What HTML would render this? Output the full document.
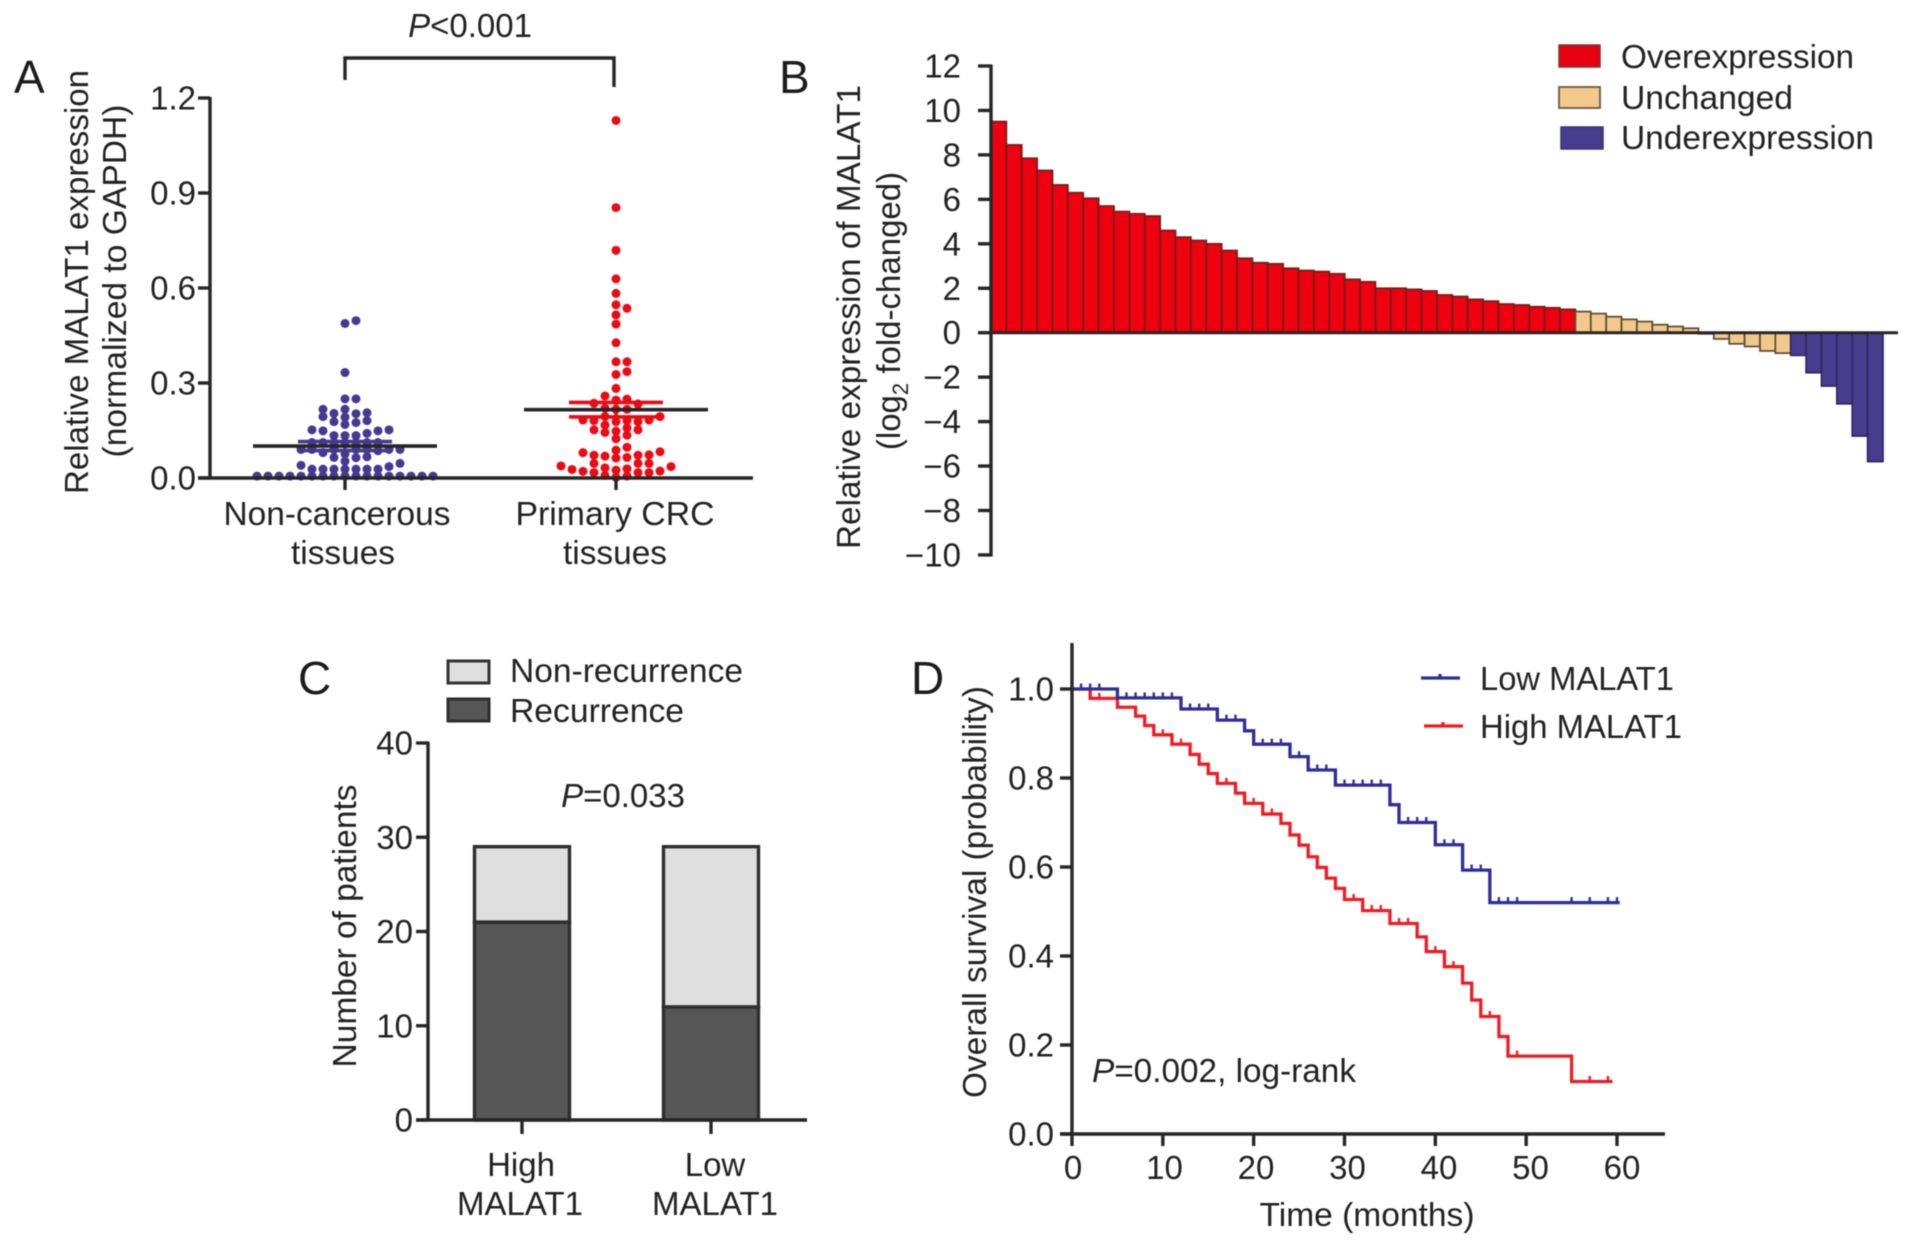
<!DOCTYPE html>
<html>
<head>
<meta charset="utf-8">
<title>MALAT1 expression figure</title>
<style>
html,body{margin:0;padding:0;background:#fff;}
svg{display:block;filter:blur(0.55px);}
text{font-family:"Liberation Sans",Arial,sans-serif;fill:#222;font-size:33px;}
.panel{font-size:46px;fill:#1c1c1c;}
</style>
</head>
<body>
<svg id="fig" xmlns="http://www.w3.org/2000/svg" width="1913" height="1245" viewBox="0 0 1913 1245">
  <rect x="0" y="0" width="1913" height="1245" fill="#fff"/>

  <!-- Panel A static -->
  <g id="panelA">
    <text class="panel" x="14" y="93">A</text>
    <text x="470" y="37" text-anchor="middle"><tspan font-style="italic">P</tspan>&lt;0.001</text>
    <path d="M345 80V58H614V87" fill="none" stroke="#262626" stroke-width="3.4"/>
    <text transform="translate(88 282) rotate(-90)" text-anchor="middle" textLength="424" lengthAdjust="spacingAndGlyphs">Relative MALAT1 expression</text>
    <text transform="translate(126 281) rotate(-90)" text-anchor="middle" textLength="353" lengthAdjust="spacingAndGlyphs">(normalized to GAPDH)</text>
    <text x="337" y="525" text-anchor="middle" textLength="227" lengthAdjust="spacingAndGlyphs">Non-cancerous</text>
    <text x="343" y="564" text-anchor="middle" textLength="104" lengthAdjust="spacingAndGlyphs">tissues</text>
    <text x="615" y="525" text-anchor="middle" textLength="199" lengthAdjust="spacingAndGlyphs">Primary CRC</text>
    <text x="615" y="564" text-anchor="middle" textLength="104" lengthAdjust="spacingAndGlyphs">tissues</text>
  </g>

  <!-- Panel B static -->
  <g id="panelB">
    <text class="panel" x="779" y="93">B</text>
    <text transform="translate(860 317) rotate(-90)" text-anchor="middle" textLength="464" lengthAdjust="spacingAndGlyphs">Relative expression of MALAT1</text>
    <text transform="translate(900 311) rotate(-90)" text-anchor="middle">(log<tspan font-size="22" dy="8">2</tspan><tspan dy="-8"> fold-changed)</tspan></text>
    <rect x="1559" y="45" width="41" height="22" fill="#e60012" stroke="#7a3a30" stroke-width="1.5"/>
    <rect x="1559" y="87" width="41" height="21" fill="#f2c98a" stroke="#6a5a40" stroke-width="1.8"/>
    <rect x="1561" y="127" width="42" height="22" fill="#483c8e" stroke="#3b3270" stroke-width="1.5"/>
    <text x="1621" y="68" textLength="233" lengthAdjust="spacingAndGlyphs">Overexpression</text>
    <text x="1621" y="109" textLength="172" lengthAdjust="spacingAndGlyphs">Unchanged</text>
    <text x="1621" y="149" textLength="253" lengthAdjust="spacingAndGlyphs">Underexpression</text>
  </g>

  <!-- Panel C static -->
  <g id="panelC">
    <text class="panel" x="298" y="694">C</text>
    <rect x="448" y="661" width="41" height="22" fill="#dedede" stroke="#333" stroke-width="3"/>
    <rect x="448" y="699" width="41" height="22" fill="#565656" stroke="#2e2e2e" stroke-width="3"/>
    <text x="510" y="682" textLength="233" lengthAdjust="spacingAndGlyphs">Non-recurrence</text>
    <text x="510" y="722" textLength="174" lengthAdjust="spacingAndGlyphs">Recurrence</text>
    <text x="623" y="807" text-anchor="middle"><tspan font-style="italic">P</tspan>=0.033</text>
    <text transform="translate(356 926) rotate(-90)" text-anchor="middle" textLength="283" lengthAdjust="spacingAndGlyphs">Number of patients</text>
    <text x="521" y="1176" text-anchor="middle">High</text>
    <text x="520" y="1215" text-anchor="middle">MALAT1</text>
    <text x="715" y="1176" text-anchor="middle">Low</text>
    <text x="715" y="1215" text-anchor="middle">MALAT1</text>
  </g>

  <!-- Panel D static -->
  <g id="panelD">
    <text class="panel" x="911" y="694">D</text>
    <text transform="translate(986 892) rotate(-90)" text-anchor="middle" textLength="412" lengthAdjust="spacingAndGlyphs">Overall survival (probability)</text>
    <text x="1367" y="1226" text-anchor="middle" textLength="215" lengthAdjust="spacingAndGlyphs">Time (months)</text>
    <text x="1092" y="1082" textLength="264" lengthAdjust="spacingAndGlyphs"><tspan font-style="italic">P</tspan>=0.002, log-rank</text>
    <path d="M1421 678H1460M1440 678V674" fill="none" stroke="#2e2e9a" stroke-width="3.3"/>
    <path d="M1424 726H1463M1443 726V722" fill="none" stroke="#f01c24" stroke-width="3.3"/>
    <text x="1480" y="690" textLength="194" lengthAdjust="spacingAndGlyphs">Low MALAT1</text>
    <text x="1480" y="738" textLength="202" lengthAdjust="spacingAndGlyphs">High MALAT1</text>
  </g>
</svg>

<script>
// ---- Panel A data ----
const aTicks = [0, 0.3, 0.6, 0.9, 1.2];
const aTickLabels = ['0.0', '0.3', '0.6', '0.9', '1.2'];
const aNonCancerous = [
  0.006,0.006,0.006,0.006,0.006,0.006,0.006,0.006,0.006,0.006,0.006,0.006,0.006,0.006,0.006,0.006,0.006,
  0.028,0.028,0.028,0.028,0.028,0.028,0.028,
  0.036,0.04,0.046,0.053,
  0.064,0.065,0.067,0.076,0.08,0.086,
  0.09,0.09,0.09,0.09,0.09,0.09,0.09,
  0.112,0.112,0.112,0.112,0.112,0.112,0.112,
  0.134,0.134,0.134,
  0.141,0.149,0.149,0.152,0.152,
  0.169,0.175,0.178,0.181,
  0.192,0.194,0.203,0.204,0.206,0.217,0.217,
  0.25,0.25,0.333,0.488,0.497
];
const aPrimary = [
  0.002,0.006,0.008,0.017,0.017,0.017,0.021,0.022,0.025,0.027,0.029,0.032,
  0.036,0.038,0.046,0.046,0.046,
  0.063,0.065,0.069,0.072,0.072,0.073,0.08,0.083,0.088,0.097,
  0.124,0.135,0.144,0.148,0.152,0.152,0.158,
  0.167,0.178,0.178,0.181,0.181,0.183,0.183,0.194,0.194,
  0.217,0.217,0.22,0.234,0.236,0.246,0.249,0.259,0.283,
  0.327,0.336,0.367,0.367,0.427,0.486,0.515,0.536,0.547,0.583,0.629,0.719,0.854,1.129
];
const aMeans = [0.101, 0.2157];
const aSems = [0.0142, 0.023];

// ---- Panel B data ----
const bTicks = [12,10,8,6,4,2,0,-2,-4,-6,-8,-10];
const bTickLabels = ['12','10','8','6','4','2','0','\u22122','\u22124','\u22126','\u22128','\u221210'];
const bValues = [
  9.5,8.45,7.85,7.3,6.65,6.3,6.05,5.7,5.45,5.35,5.25,4.6,4.3,4.15,4.0,3.7,3.35,3.15,3.1,
  2.9,2.8,2.75,2.65,2.4,2.29,2.0,2.0,1.95,1.88,1.7,1.63,1.5,1.42,1.29,1.25,1.17,1.12,1.05,
  0.95,0.86,0.72,0.6,0.5,0.36,0.28,0.2,-0.05,-0.28,-0.5,-0.62,-0.82,-0.92,
  -1.02,-1.8,-2.4,-3.2,-4.65,-5.8
];
const bOverThreshold = 1;
const bUnderThreshold = -1;

// ---- Panel C data ----
const cCategories = ['High MALAT1', 'Low MALAT1'];
const cRecurrence = [21, 12];
const cNonRecurrence = [8, 17];
const cTicks = [0, 10, 20, 30, 40];

// ---- Panel D data ----
const dYTicks = [0, 0.2, 0.4, 0.6, 0.8, 1.0];
const dYLabels = ['0.0', '0.2', '0.4', '0.6', '0.8', '1.0'];
const dXTicks = [0, 10, 20, 30, 40, 50, 60];
const lowTimes = [0,5,12,16,19,20,24,26,29,35,36,40,43,46];
const lowSurv = [1,0.98,0.955,0.93,0.906,0.876,0.848,0.818,0.784,0.74,0.70,0.65,0.593,0.52];
const lowEnd = 60.3;
const lowCensor = [1,2,3,6,7,8,9,10,11,13,14,15,17,18,21,22,23,25,27,28,30,31,32,33,34,37,38,39,41,42,44,45,47,48,49,55,57,59,60];
const highTimes = [0,2,5,7,8,9,11,13,14,15,16,18,19,21,23,24,25,26,27,28,29,30,32,35,38,39,41,43,44,45,47,48,55];
const highSurv = [1,0.979,0.959,0.939,0.918,0.897,0.876,0.853,0.831,0.81,0.788,0.766,0.743,0.719,0.698,0.672,0.649,0.623,0.599,0.575,0.552,0.527,0.502,0.473,0.443,0.41,0.376,0.339,0.301,0.264,0.219,0.175,0.118];
const highEnd = 59.5;
const highCensor = [3,10,12,17,20,22,31,33,34,36,37,40,42,46,49,57,59];

// ---- helpers ----
const NS = 'http://www.w3.org/2000/svg';
const AXIS = '#262626';
const AXW = 3.4;
function make(tag, attrs, parent, text) {
  const n = document.createElementNS(NS, tag);
  for (const k in attrs) n.setAttribute(k, attrs[k]);
  if (text !== undefined) n.textContent = text;
  parent.appendChild(n);
  return n;
}
function linear(d0, d1, r0, r1) {
  return v => r0 + (v - d0) * (r1 - r0) / (d1 - d0);
}
const gA = document.getElementById('panelA');
const gB = document.getElementById('panelB');
const gC = document.getElementById('panelC');
const gD = document.getElementById('panelD');

// ---- Panel A ----
const yA = linear(0, 1.2, 478, 98);
const aCenters = [345, 616];
const aColors = ['#453a92', '#ec0a14'];
const aColNames = ['non-cancerous', 'primary-crc'];
function swarm(values, center, color, label) {
  const step = 11, minGap = 0.022;
  const cols = {};
  const sorted = values.slice().sort((a, b) => a - b);
  sorted.forEach(v => {
    let k = 0, i = 0;
    while (true) {
      k = i === 0 ? 0 : (i % 2 ? (i + 1) / 2 : -i / 2);
      const c = cols[k] || [];
      if (c.every(w => Math.abs(w - v) >= minGap)) { c.push(v); cols[k] = c; break; }
      i++;
    }
    const dot = make('circle', {cx: center + k * step, cy: yA(v), r: 4.5, fill: color}, gA);
    
    
  });
}
swarm(aNonCancerous, aCenters[0], aColors[0], aColNames[0]);
swarm(aPrimary, aCenters[1], aColors[1], aColNames[1]);
aMeans.forEach((m, i) => {
  const c = aCenters[i], s = aSems[i];
  const p = make('path', {
    d: 'M' + (c - 47) + ' ' + yA(m + s) + 'H' + (c + 47) + 'M' + (c - 47) + ' ' + yA(m - s) + 'H' + (c + 47) + 'M' + c + ' ' + yA(m + s) + 'V' + yA(m - s),
    fill: 'none', stroke: aColors[i], 'stroke-width': 3.6
  }, gA);
  
  
  const l = make('line', {x1: c - 92, x2: c + 92, y1: yA(m), y2: yA(m), stroke: '#262626', 'stroke-width': 3.6}, gA);
  
  
});
const aAxisY = make('line', {x1: 210, x2: 210, y1: yA(1.2) - 1, y2: yA(0), stroke: AXIS, 'stroke-width': AXW}, gA);


const aAxisX = make('line', {x1: 198, x2: 753, y1: yA(0), y2: yA(0), stroke: AXIS, 'stroke-width': AXW}, gA);


aTicks.forEach((t, i) => {
  const tk = make('line', {x1: 198, x2: 210, y1: yA(t), y2: yA(t), stroke: AXIS, 'stroke-width': AXW}, gA);
  
  
  const lb = make('text', {x: 196, y: yA(t) + 11.5, 'text-anchor': 'end'}, gA, aTickLabels[i]);
  
  
});
aCenters.forEach(c => {
  const tk = make('line', {x1: c, x2: c, y1: 478, y2: 490, stroke: AXIS, 'stroke-width': AXW}, gA);
  
  
});

// ---- Panel B ----
const yB = linear(0, 12, 332.7, 66);
const bLeft = 991, bRight = 1883;
const bw = (bRight - bLeft) / bValues.length;
bValues.forEach((v, i) => {
  const over = v >= bOverThreshold, under = v <= bUnderThreshold;
  const fill = over ? '#ee0010' : under ? '#483c8e' : '#f2c98a';
  const edge = over ? '#6e2018' : under ? '#2e2760' : '#5a4a30';
  const r = make('rect', {
    x: bLeft + i * bw, y: Math.min(yB(v), yB(0)), width: bw,
    height: Math.abs(yB(v) - yB(0)), fill: fill, stroke: edge, 'stroke-width': 1.7
  }, gB);
  
  
});
const bBase = make('line', {x1: bLeft, x2: 1898, y1: yB(0), y2: yB(0), stroke: AXIS, 'stroke-width': 3}, gB);


const bAxis = make('line', {x1: bLeft, x2: bLeft, y1: yB(12) - 1.5, y2: yB(-10) + 1.5, stroke: AXIS, 'stroke-width': AXW}, gB);


bTicks.forEach((t, i) => {
  const tk = make('line', {x1: 978, x2: bLeft, y1: yB(t), y2: yB(t), stroke: AXIS, 'stroke-width': AXW}, gB);
  
  
  const lb = make('text', {x: 961, y: yB(t) + 11.5, 'text-anchor': 'end'}, gB, bTickLabels[i]);
  
  
});

// ---- Panel C ----
const yC = linear(0, 40, 1120, 743);
const cCenters = [522, 711];
const cHalf = 47.5;
cCategories.forEach((name, i) => {
  const c = cCenters[i];
  const lo = make('rect', {x: c - cHalf, y: yC(cRecurrence[i]), width: cHalf * 2, height: yC(0) - yC(cRecurrence[i]), fill: '#565656', stroke: '#2e2e2e', 'stroke-width': 3.4}, gC);
  
  
  const total = cRecurrence[i] + cNonRecurrence[i];
  const hi = make('rect', {x: c - cHalf, y: yC(total), width: cHalf * 2, height: yC(cRecurrence[i]) - yC(total), fill: '#dedede', stroke: '#2e2e2e', 'stroke-width': 3.4}, gC);
  
  
  const tk = make('line', {x1: c, x2: c, y1: 1120, y2: 1134, stroke: AXIS, 'stroke-width': AXW}, gC);
  
  
});
const cAxisY = make('line', {x1: 428, x2: 428, y1: yC(40) - 1.5, y2: yC(0), stroke: AXIS, 'stroke-width': AXW}, gC);


const cAxisX = make('line', {x1: 416, x2: 807, y1: yC(0), y2: yC(0), stroke: AXIS, 'stroke-width': AXW}, gC);


cTicks.forEach(t => {
  const tk = make('line', {x1: 416, x2: 428, y1: yC(t), y2: yC(t), stroke: AXIS, 'stroke-width': AXW}, gC);
  
  
  const lb = make('text', {x: 413, y: yC(t) + 11.5, 'text-anchor': 'end'}, gC, String(t));
  
  
});

// ---- Panel D ----
const xD = linear(0, 60, 1072, 1617);
const xDLabel = linear(0, 60, 1073, 1622);
const yD = linear(0, 1, 1134, 689);
function stepAt(times, surv, t) {
  let s = surv[0];
  times.forEach((tt, i) => { if (tt <= t) s = surv[i]; });
  return s;
}
function curve(times, surv, end, censor, color, label) {
  let d = 'M' + xD(times[0]) + ' ' + yD(surv[0]);
  for (let i = 1; i < times.length; i++) {
    d += 'H' + xD(times[i]) + 'V' + yD(surv[i]);
  }
  d += 'H' + xD(end);
  const p = make('path', {d: d, fill: 'none', stroke: color, 'stroke-width': 3.3}, gD);
  
  
  censor.forEach(t => {
    const y = yD(stepAt(times, surv, t));
    const c = make('line', {x1: xD(t), x2: xD(t), y1: y, y2: y - 5.5, stroke: color, 'stroke-width': 2.4}, gD);
    
    
  });
}
curve(highTimes, highSurv, highEnd, highCensor, '#f01c24', 'high');
curve(lowTimes, lowSurv, lowEnd, lowCensor, '#2e2e9a', 'low');
const dAxisY = make('line', {x1: 1072, x2: 1072, y1: 643, y2: 1134, stroke: AXIS, 'stroke-width': AXW}, gD);


const dAxisX = make('line', {x1: 1060, x2: 1665, y1: 1134, y2: 1134, stroke: AXIS, 'stroke-width': AXW}, gD);


dYTicks.forEach((t, i) => {
  const tk = make('line', {x1: 1060, x2: 1072, y1: yD(t), y2: yD(t), stroke: AXIS, 'stroke-width': AXW}, gD);
  
  
  const lb = make('text', {x: 1054, y: yD(t) + 11.5, 'text-anchor': 'end'}, gD, dYLabels[i]);
  
  
});
dXTicks.forEach(t => {
  const tk = make('line', {x1: xD(t), x2: xD(t), y1: 1134, y2: 1146, stroke: AXIS, 'stroke-width': AXW}, gD);
  
  
  const lb = make('text', {x: xDLabel(t), y: 1179, 'text-anchor': 'middle'}, gD, String(t));
  
  
});
</script>
</body>
</html>
